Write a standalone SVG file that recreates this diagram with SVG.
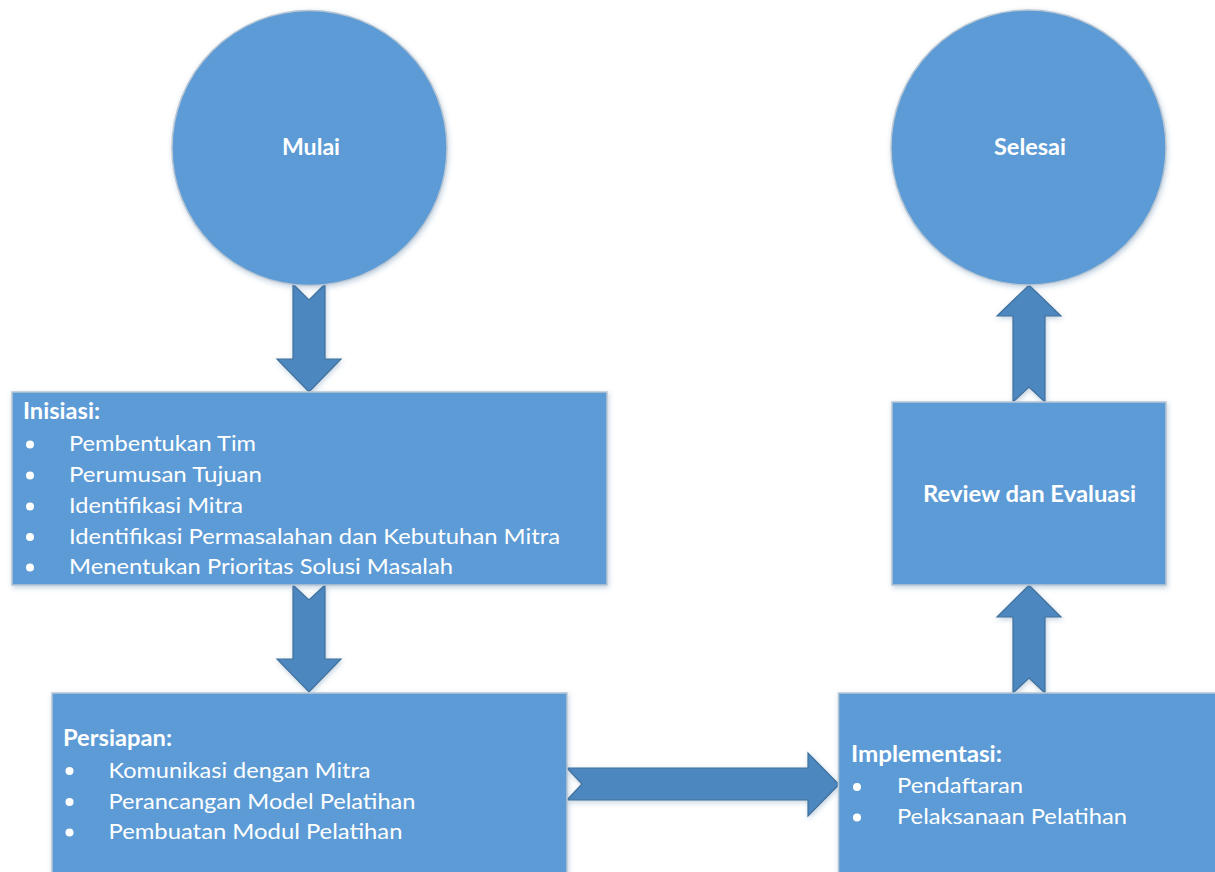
<svg xmlns="http://www.w3.org/2000/svg" width="1215" height="872" viewBox="0 0 1215 872">
<defs>
<filter id="sh" x="-10%" y="-10%" width="120%" height="120%">
<feDropShadow dx="1" dy="2" stdDeviation="2.5" flood-color="#3a6a9a" flood-opacity="0.3"/>
</filter>
<style>
.node{fill:#5B9BD5;stroke:#b9c6d3;stroke-width:1.5;filter:url(#sh)}
.arr{fill:#4D87BF;stroke:#41719C;stroke-width:1.2;filter:url(#sh)}
text{font-family:Lato,"Open Sans","Liberation Sans",sans-serif;fill:#ffffff;font-size:22px}
.b{font-weight:bold}
.dot{fill:#ffffff}
</style>
</defs>
<rect width="1215" height="872" fill="#ffffff"/>
<g id="connectors">
<polygon class="arr" points="293,284 309,300 325,284 325,359 341,359 309,392 277,359 293,359"/>
<polygon class="arr" points="293,585 309,600 325,585 325,659 341,659 309,692 277,659 293,659"/>
<polygon class="arr" points="567,768 808,768 808,753 839,784.5 808,816 808,800 567,800 582,784"/>
<polygon class="arr" points="1013,693 1029,678 1045,693 1045,617 1061,617 1029,585 997,617 1013,617"/>
<polygon class="arr" points="1013,402 1029,387 1045,402 1045,316 1061,316 1029,285 997,316 1013,316"/>
</g>
<g id="mulai">
<circle class="node" cx="309.5" cy="148" r="137.5"/>
<text class="b" x="311" y="155" text-anchor="middle" textLength="58" lengthAdjust="spacingAndGlyphs">Mulai</text>
</g>
<g id="selesai">
<circle class="node" cx="1028.5" cy="147.5" r="137.5"/>
<text class="b" x="1030" y="155" text-anchor="middle" textLength="72" lengthAdjust="spacingAndGlyphs">Selesai</text>
</g>
<g id="inisiasi">
<rect class="node" x="12" y="392" width="595" height="193"/>
<text class="b" x="23" y="419" textLength="77" lengthAdjust="spacingAndGlyphs">Inisiasi:</text>
<circle class="dot" cx="30" cy="444.5" r="4"/>
<circle class="dot" cx="30" cy="475.5" r="4"/>
<circle class="dot" cx="30" cy="506.5" r="4"/>
<circle class="dot" cx="30" cy="537" r="4"/>
<circle class="dot" cx="30" cy="567.5" r="4"/>
<text x="69" y="451" textLength="187" lengthAdjust="spacingAndGlyphs">Pembentukan Tim</text>
<text x="69" y="482" textLength="193" lengthAdjust="spacingAndGlyphs">Perumusan Tujuan</text>
<text x="69" y="513" textLength="174" lengthAdjust="spacingAndGlyphs">Identifikasi Mitra</text>
<text x="69" y="543.5" textLength="491" lengthAdjust="spacingAndGlyphs">Identifikasi Permasalahan dan Kebutuhan Mitra</text>
<text x="69" y="574" textLength="384" lengthAdjust="spacingAndGlyphs">Menentukan Prioritas Solusi Masalah</text>
</g>
<g id="persiapan">
<rect class="node" x="52" y="693" width="515" height="200"/>
<text class="b" x="63" y="746" textLength="109" lengthAdjust="spacingAndGlyphs">Persiapan:</text>
<circle class="dot" cx="69.5" cy="771" r="4"/>
<circle class="dot" cx="69.5" cy="802" r="4"/>
<circle class="dot" cx="69.5" cy="832.5" r="4"/>
<text x="108.5" y="777.7" textLength="262" lengthAdjust="spacingAndGlyphs">Komunikasi dengan Mitra</text>
<text x="108.5" y="808.5" textLength="307" lengthAdjust="spacingAndGlyphs">Perancangan Model Pelatihan</text>
<text x="108.5" y="839" textLength="294" lengthAdjust="spacingAndGlyphs">Pembuatan Modul Pelatihan</text>
</g>
<g id="implementasi">
<rect class="node" x="838.5" y="693" width="400" height="200"/>
<text class="b" x="851" y="761.7" textLength="151" lengthAdjust="spacingAndGlyphs">Implementasi:</text>
<circle class="dot" cx="857" cy="787" r="4"/>
<circle class="dot" cx="857" cy="817.5" r="4"/>
<text x="897" y="793.3" textLength="126" lengthAdjust="spacingAndGlyphs">Pendaftaran</text>
<text x="897" y="824" textLength="230" lengthAdjust="spacingAndGlyphs">Pelaksanaan Pelatihan</text>
</g>
<g id="review">
<rect class="node" x="892" y="402" width="274" height="183"/>
<text class="b" x="1029.5" y="502.3" text-anchor="middle" textLength="213" lengthAdjust="spacingAndGlyphs">Review dan Evaluasi</text>
</g>
</svg>
